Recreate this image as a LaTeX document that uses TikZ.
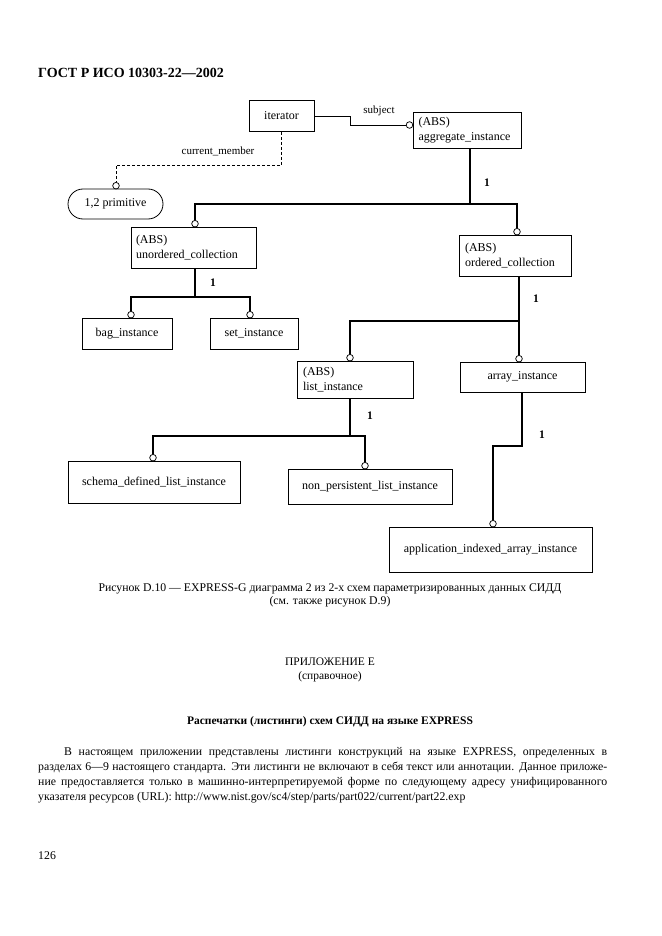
\documentclass[tikz,border=0pt]{standalone}
\usepackage{fontspec}
\setmainfont{Liberation Serif}
\begin{document}
\begin{tikzpicture}[x=1pt,y=-1pt,
  box/.style={draw, line width=0.8pt, inner sep=0pt, font=\fontsize{12}{15}\selectfont},
  absbox/.style={box, align=left},
  circ/.style={circle, draw, fill=white, line width=0.75pt, minimum size=6.6pt, inner sep=0pt},
  rel/.style={line width=2.6pt},
  subrel/.style={line width=0.8pt},
  optrel/.style={line width=0.8pt, dash pattern=on 3pt off 2pt},
  lbl/.style={font=\fontsize{11}{12}\selectfont},
  card/.style={font=\bfseries\fontsize{11.5}{13}\selectfont},
  txt/.style={font=\fontsize{11.8}{15}\selectfont}
]
\useasboundingbox[fill=white] (0,0) rectangle (661,936);

% header
\node[anchor=west, inner sep=0pt, font=\bfseries\fontsize{14}{16}\selectfont] (hdr) at (38,73) {ГОСТ Р ИСО 10303-22—2002};

% boxes
\node[box, minimum width=65pt, minimum height=31pt] (iter) at (281.5,116) {iterator};
\node[absbox, minimum width=108pt, minimum height=36pt, text width=98pt] (agg) at (467.5,130) {(ABS)\\aggregate\_instance};
\node[box, minimum width=95pt, minimum height=30pt, rounded corners=15pt] (prim) at (115.5,204) {1,2 primitive};
\node[absbox, minimum width=125pt, minimum height=41pt, text width=115pt] (unord) at (193.5,247.5) {(ABS)\\unordered\_collection};
\node[absbox, minimum width=112pt, minimum height=41pt, text width=100pt] (ord) at (515,255.5) {(ABS)\\ordered\_collection};
\node[box, minimum width=90pt, minimum height=31pt] (bag) at (127,333.5) {bag\_instance};
\node[box, minimum width=88pt, minimum height=31pt] (set) at (254,333.5) {set\_instance};
\node[absbox, minimum width=116pt, minimum height=37pt, text width=104pt] (list) at (355,379.5) {(ABS)\\list\_instance};
\node[box, minimum width=125pt, minimum height=30pt] (arr) at (522.5,377) {array\_instance};
\node[box, minimum width=172pt, minimum height=42pt] (schema) at (154,482) {schema\_defined\_list\_instance};
\node[box, minimum width=164pt, minimum height=35pt] (nonp) at (370,486.5) {non\_persistent\_list\_instance};
\node[box, minimum width=203pt, minimum height=45pt] (app) at (490.5,549.5) {application\_indexed\_array\_instance};

% circles
\node[circ] (csub) at (409.5,125) {};
\node[circ] (cprim) at (116,185.7) {};
\node[circ] (cunord) at (195,223.7) {};
\node[circ] (cord) at (517,231.7) {};
\node[circ] (cbag) at (131,314.7) {};
\node[circ] (cset) at (250,314.7) {};
\node[circ] (clist) at (350,357.7) {};
\node[circ] (carr) at (519,358.7) {};
\node[circ] (cschema) at (153,457.7) {};
\node[circ] (cnonp) at (365,465.7) {};
\node[circ] (capp) at (493,523.7) {};

% junctions
\coordinate (j1) at (470,204);
\coordinate (j2) at (195,297);
\coordinate (j3) at (519,321);
\coordinate (j4) at (350,436);
\coordinate (j5) at (522,446);

% subject
\draw[subrel] (iter.east) -- (350,116) -- (350,125) -- (csub.west);
\node[lbl] (lsub) at (379,111) {subject};
% current_member
\draw[optrel] (iter.south) |- (cprim |- 0,165) -- (cprim.north);
\node[lbl] (lcur) at (218,151) {current\_member};

% aggregate tree
\draw[rel] (agg.south -| j1) -- (j1);
\draw[rel] (cunord.north) |- (j1) -| (cord.north);
\node[card] (c1) at (487,183) {1};

\draw[rel] (unord.south -| j2) -- (j2);
\draw[rel] (cbag.north) |- (j2) -| (cset.north);
\node[card] (c2) at (213,283) {1};

\draw[rel] (ord.south -| j3) -- (j3);
\draw[rel] (clist.north) |- (j3) -- (carr.north);
\node[card] (c3) at (536,299) {1};

\draw[rel] (list.south -| j4) -- (j4);
\draw[rel] (cschema.north) |- (j4) -| (cnonp.north);
\node[card] (c4) at (370,416) {1};

\draw[rel] (arr.south -| j5) -- (j5) -| (capp.north);
\node[card] (c5) at (542,435) {1};

% caption
\node[align=center, font=\fontsize{11.75}{13}\selectfont] (cap) at (330,595) {Рисунок D.10 — EXPRESS-G диаграмма 2 из 2-х схем параметризированных данных СИДД\\(см. также рисунок D.9)};

\node[txt, align=center, font=\fontsize{11.5}{14}\selectfont] (app1) at (330,670) {ПРИЛОЖЕНИЕ Е\\(справочное)};
\node[font=\bfseries\fontsize{11.5}{14}\selectfont] (ttl) at (330,722) {Распечатки (листинги) схем СИДД на языке EXPRESS};

\node[txt, anchor=north west, inner sep=0pt, text width=569pt, align=justify] (par) at (38,747) {\hyphenpenalty=10000\hspace*{26pt}В настоящем приложении представлены листинги конструкций на языке EXPRESS, определенных в\linebreak разделах 6—9 настоящего стандарта. Эти листинги не включают в себя текст или аннотации. Данное приложе-\linebreak ние предоставляется только в машинно-интерпретируемой форме по следующему адресу унифицированного\linebreak указателя ресурсов (URL): http://www.nist.gov/sc4/step/parts/part022/current/part22.exp};

\node[txt, anchor=west, inner sep=0pt] (pg) at (38,856) {126};
\end{tikzpicture}
\end{document}
